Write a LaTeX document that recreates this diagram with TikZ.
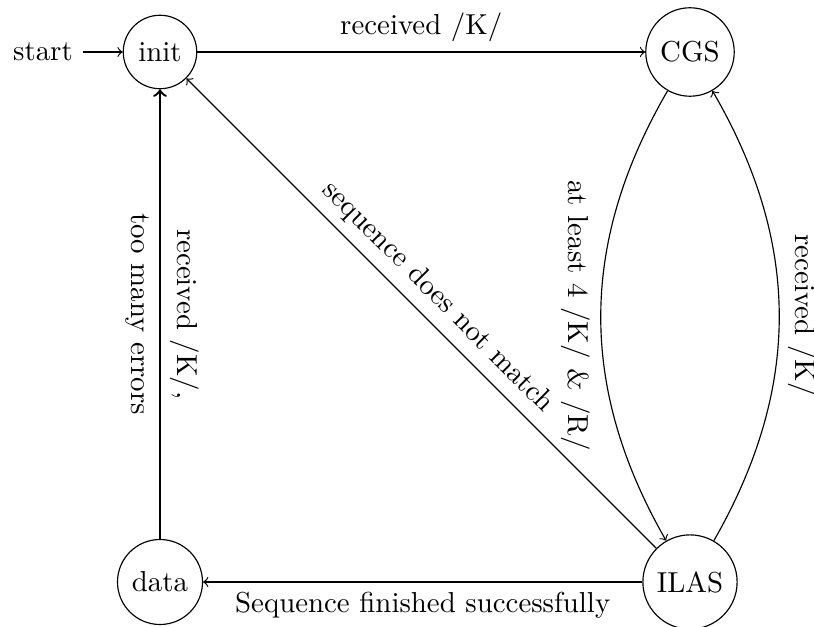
\documentclass[tikz,border=0pt]{standalone}
\begin{document}
\begin{tikzpicture}[x=0.3464pt, y=0.3464pt,
  statebox/.style={circle, draw, minimum size=2.5em, inner sep=0.3333em},
  trans/.style={->}]
\useasboundingbox (0,0) rectangle (814,626);
\node[statebox] (init) at (160,574) {init};
\node[statebox] (CGS)  at (690,574) {CGS};
\node[statebox] (ILAS) at (690,44)  {ILAS};
\node[statebox] (data) at (160,44)  {data};
\node (start) at (43,574) {start};

\draw[trans] (start) -- (init);
\draw[trans] (init) -- node[midway, above] {received /K/} (CGS);
\draw[trans] (CGS) to[bend right=30, looseness=1.0]
  node[midway, rotate=-90, anchor=north] {at least 4 /K/ \& /R/} (ILAS);
\draw[trans] (ILAS) to[bend right=30, looseness=1.0]
  node[midway, rotate=-90, anchor=south, inner sep=3pt] {received /K/} (CGS);
\draw[trans] (ILAS) -- node[midway, sloped, above] {sequence does not match} (init);
\draw[trans] (ILAS) -- node[midway, below] {Sequence finished successfully} (data);
\draw[trans, line width=0.8pt] (data) --
  node[midway, rotate=-90, anchor=south] {received /K/,}
  node[midway, rotate=-90, anchor=north] {too many errors} (init);
\end{tikzpicture}
\end{document}
